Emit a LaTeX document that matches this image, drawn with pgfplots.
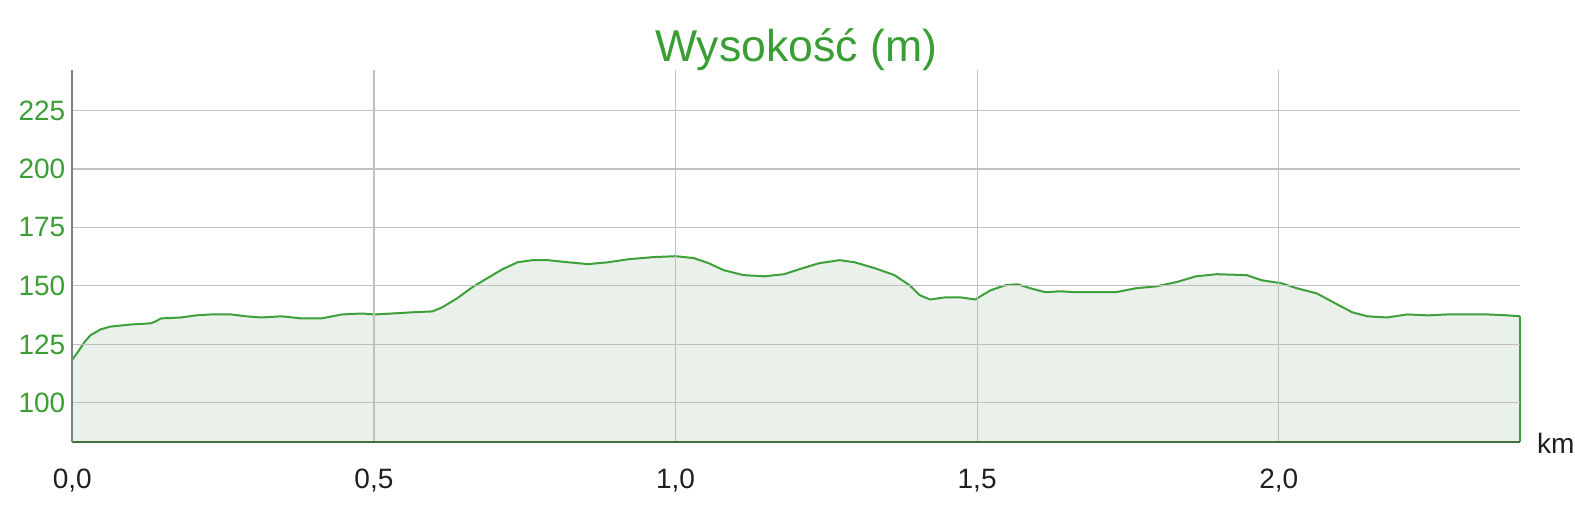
\documentclass[border=0pt]{standalone}
\usepackage{fontspec}
\setmainfont{Liberation Sans}
\usepackage{pgfplots}
\pgfplotsset{compat=1.18}
\definecolor{tgreen}{RGB}{58,158,53}
\definecolor{lgreen}{RGB}{61,160,58}
\definecolor{fgreen}{RGB}{234,241,234}
\definecolor{agreen}{RGB}{63,111,63}
\definecolor{gridc}{RGB}{192,192,192}
\definecolor{laxis}{RGB}{125,125,125}
\pgfplotstableread{
x y
0.000 118.5
0.010 122.0
0.020 125.9
0.030 128.9
0.047 131.4
0.063 132.6
0.097 133.5
0.130 134.0
0.138 134.8
0.147 136.1
0.180 136.5
0.205 137.4
0.230 137.8
0.263 137.8
0.288 137.0
0.313 136.5
0.347 137.0
0.380 136.1
0.413 136.1
0.447 137.8
0.480 138.2
0.500 137.8
0.530 138.2
0.563 138.7
0.597 139.1
0.613 140.8
0.638 144.7
0.663 149.4
0.688 153.3
0.713 157.1
0.738 160.1
0.763 161.0
0.788 161.0
0.822 160.1
0.855 159.3
0.888 160.1
0.922 161.4
0.963 162.3
1.000 162.7
1.030 161.9
1.055 159.7
1.080 156.7
1.113 154.6
1.147 154.1
1.180 155.0
1.205 157.1
1.238 159.7
1.272 161.0
1.297 160.1
1.330 157.6
1.363 154.6
1.388 150.3
1.405 146.0
1.422 144.2
1.447 145.1
1.472 145.1
1.497 144.2
1.522 148.1
1.547 150.3
1.567 150.7
1.588 149.0
1.613 147.3
1.638 147.7
1.663 147.3
1.697 147.3
1.730 147.3
1.763 149.0
1.797 149.8
1.830 151.6
1.863 154.1
1.897 155.0
1.947 154.6
1.972 152.4
2.005 151.1
2.030 149.0
2.063 146.8
2.097 142.1
2.122 138.7
2.147 137.0
2.180 136.5
2.213 137.8
2.247 137.4
2.280 137.8
2.313 137.8
2.347 137.8
2.380 137.4
2.400 137.0
}\elev
\begin{document}
\begin{tikzpicture}
\useasboundingbox (-36.15pt,-32.15pt) rectangle (751.35pt,220.85pt);
\begin{axis}[
  at={(0pt,0pt)}, anchor=south west,
  scale only axis,
  width=723.85pt, height=185.85pt,
  xmin=0, xmax=2.4, ymin=83.4, ymax=242.3,
  axis on top,
  axis x line*=bottom, axis y line*=left,
  x axis line style={agreen, line width=1pt, -},
  y axis line style={laxis, line width=0.8pt, -},
  xtick={0,0.5,1,1.5,2}, ytick={100,125,150,175,200,225},
  xticklabels={0{,}0,0{,}5,1{,}0,1{,}5,2{,}0},
  major tick length=0pt,
  grid=major,
  major grid style={gridc, line width=0.6pt},
  /pgf/number format/assume math mode=true,
  yticklabel style={font=\fontsize{14}{16}\selectfont, text=tgreen},
  xticklabel style={font=\fontsize{14}{16}\selectfont, text=black!88, anchor=base, yshift=-23.5pt},
  clip=false,
]
\addplot[draw=none, fill=fgreen] table[x=x,y=y]{\elev} \closedcycle;
\addplot[lgreen, line width=1pt] table[x=x,y=y]{\elev};
\addplot[lgreen, line width=1pt] coordinates {(2.4,137.0) (2.4,83.4)};
\node[anchor=base, text=tgreen, font=\fontsize{22.3}{26}\selectfont] at (rel axis cs:0.5,1) [yshift=4pt] {Wysokość (m)};
\node[anchor=base west, text=black!88, font=\fontsize{14}{16}\selectfont] at (rel axis cs:1,0) [xshift=5pt, yshift=-6pt] {km};
\end{axis}
\end{tikzpicture}
\end{document}
